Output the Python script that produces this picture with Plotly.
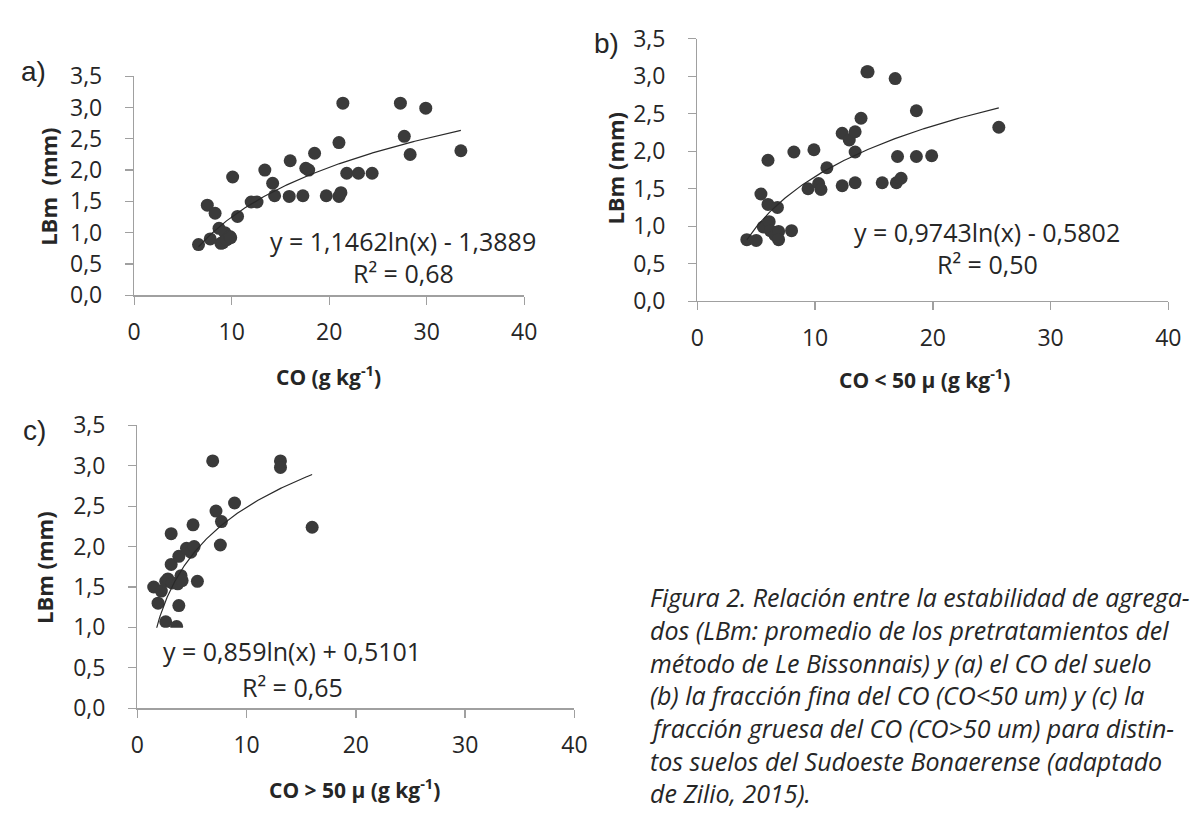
import numpy as np
import plotly.graph_objects as go

# ---------------- data ----------------
a_x = [6.6, 7.5, 7.8, 8.3, 8.7, 8.9, 9.1, 9.3, 9.5, 9.8, 9.9, 10.1, 10.6, 12.0, 12.6, 13.4, 14.2, 14.4,
       15.9, 16.0, 17.3, 17.6, 17.9, 18.5, 19.7, 21.0, 21.0, 21.2, 21.4, 21.8, 23.0, 24.4, 27.3, 27.7,
       28.3, 29.9, 33.5]
a_y = [0.81, 1.44, 0.90, 1.31, 1.07, 0.83, 0.84, 1.00, 0.89, 0.94, 0.92, 1.89, 1.26, 1.49, 1.49, 2.00,
       1.79, 1.59, 1.58, 2.15, 1.59, 2.03, 2.00, 2.27, 1.59, 2.44, 1.58, 1.64, 3.07, 1.95, 1.95, 1.95,
       3.07, 2.54, 2.25, 2.99, 2.31]

b_x = [4.2, 5.0, 5.4, 5.6, 6.0, 6.0, 6.1, 6.2, 6.6, 6.8, 6.9, 6.9, 8.0, 8.2, 9.4, 9.9, 10.3, 10.5, 11.0,
       12.3, 12.3, 12.9, 13.4, 13.4, 13.4, 13.9, 14.4, 14.5, 15.7, 16.8, 16.9, 17.0, 17.3, 18.6, 18.6,
       19.9, 25.6]
b_y = [0.82, 0.81, 1.43, 0.99, 1.88, 1.29, 1.06, 0.94, 0.88, 1.25, 0.93, 0.82, 0.94, 1.99, 1.50, 2.02,
       1.57, 1.49, 1.78, 1.54, 2.24, 2.15, 1.58, 2.26, 1.99, 2.44, 3.06, 3.06, 1.58, 2.97, 1.58, 1.93,
       1.64, 1.93, 2.54, 1.94, 2.32]

c_x = [1.5, 1.9, 2.2, 2.6, 2.6, 2.8, 3.1, 3.1, 3.2, 3.6, 3.7, 3.8, 3.8, 4.0, 4.1, 4.5, 4.9, 5.1, 5.2,
       5.5, 6.9, 7.2, 7.6, 7.7, 8.9, 13.1, 13.1, 16.0]
c_y = [1.50, 1.30, 1.45, 1.07, 1.57, 1.60, 2.16, 1.78, 1.55, 1.01, 1.54, 1.27, 1.88, 1.64, 1.58, 1.98,
       1.93, 2.27, 2.00, 1.57, 3.06, 2.44, 2.02, 2.31, 2.54, 3.06, 2.98, 2.24]

# trendline coefficients (y = a ln(x) + b), as printed on the chart
a_fit = (1.1462, -1.3889)
b_fit = (0.9743, -0.5802)
c_fit = (0.859, 0.5101)

a_eq = ["y = 1,1462ln(x) - 1,3889", "R² = 0,68"]
b_eq = ["y = 0,9743ln(x) - 0,5802", "R² = 0,50"]
c_eq = ["y = 0,859ln(x) + 0,5101", "R² = 0,65"]

y_tickvals = [0, 0.5, 1.0, 1.5, 2.0, 2.5, 3.0, 3.5]
y_ticktext = ["0,0", "0,5", "1,0", "1,5", "2,0", "2,5", "3,0", "3,5"]
x_tickvals = [0, 10, 20, 30, 40]
x_ticktext = ["0", "10", "20", "30", "40"]

x_titles = ["CO (g kg<sup>-1</sup>)", "CO &lt; 50 µ (g kg<sup>-1</sup>)", "CO &gt; 50 µ (g kg<sup>-1</sup>)"]
y_titles = ["LBm  (mm)", "LBm (mm)", "LBm (mm)"]
panel_labels = ["a)", "b)", "c)"]

caption = [
    "Figura 2. Relación entre la estabilidad de agrega-",
    "dos (LBm: promedio de los pretratamientos del",
    "método de Le Bissonnais) y (a) el CO del suelo",
    "(b) la fracción fina del CO (CO&lt;50 um) y (c) la",
    "fracción gruesa del CO (CO&gt;50 um) para distin-",
    "tos suelos del Sudoeste Bonaerense (adaptado",
    "de Zilio, 2015).",
]

# ---------------- layout helpers ----------------
W, H = 1204, 820
def px(v):
    return v / W
def py(v):
    return 1 - v / H

FONT = "Open Sans"
DOT = "#3a3a3a"
AX = "#a0a0a0"
TXT = "#262626"

# panels: (x0px, x1px, ytop_px, ybottom_px)
panels = [
    (129.3, 526.0, 61.7, 289.5),
    (702.0, 1181.0, 22.7, 295.7),
    (132.5, 577.0, 425.0, 719.3),
]

fig = go.Figure()
datasets = [(a_x, a_y, a_fit), (b_x, b_y, b_fit), (c_x, c_y, c_fit)]
for i, (xs, ys, fit) in enumerate(datasets):
    sx = "" if i == 0 else str(i + 1)
    xx = np.linspace(min(xs), max(xs), 200)
    fig.add_trace(go.Scatter(x=xs, y=ys, mode="markers", xaxis="x" + sx, yaxis="y" + sx,
                             marker=dict(size=13, color=DOT, line=dict(width=0)),
                             showlegend=False, hoverinfo="skip"))
    fig.add_trace(go.Scatter(x=xx, y=fit[0] * np.log(xx) + fit[1], mode="lines",
                             xaxis="x" + sx, yaxis="y" + sx,
                             line=dict(color="#2a2a2a", width=1.2),
                             showlegend=False, hoverinfo="skip"))

layout = dict(width=W, height=H, autosize=False, margin=dict(l=0, r=0, t=0, b=0),
              paper_bgcolor="white", plot_bgcolor="white", showlegend=False)

axis_common = dict(showgrid=False, zeroline=False, showline=True, linecolor=AX, linewidth=1.3,
                   ticks="outside", ticklen=8, tickcolor=AX, tickwidth=1.3,
                   tickfont=dict(family=FONT, size=23, color=TXT), fixedrange=True)

for i, (x0, x1, yt, yb) in enumerate(panels):
    sx = "" if i == 0 else str(i + 1)
    layout["xaxis" + sx] = dict(axis_common, domain=[px(x0), px(x1)], range=[0, 40],
                                anchor="y" + sx, tickvals=x_tickvals, ticktext=x_ticktext,
                                ticklabelstandoff=8)
    layout["yaxis" + sx] = dict(axis_common, domain=[py(yb), py(yt)], range=[0, 3.5],
                                anchor="x" + sx, tickvals=y_tickvals, ticktext=y_ticktext,
                                ticklabelstandoff=18)

fig.update_layout(**layout)

ann = []
def text(x, y, s, size, bold=False, italic=False, xanchor="center", angle=0, family=FONT):
    t = s
    if bold:
        t = "<b>" + t + "</b>"
    if italic:
        t = "<i>" + t + "</i>"
    ann.append(dict(x=px(x), y=py(y), xref="paper", yref="paper", text=t, showarrow=False,
                    xanchor=xanchor, yanchor="middle", textangle=angle,
                    font=dict(family=family, size=size, color=TXT)))

# axis titles
x_title_pos = [(326.7, 373), (933, 376), (353, 803)]
y_title_pos = [(41.7, 176.7), (618, 157), (37, 573)]
for i in range(3):
    text(*x_title_pos[i], x_titles[i], 21, bold=True)
    text(*y_title_pos[i], y_titles[i], 22, bold=True, angle=-90)

# panel labels
label_pos = [(27, 57), (610, 28), (28, 430)]
for i in range(3):
    text(*label_pos[i], panel_labels[i], 28, family="Liberation Sans")

# white label box in panel c (covers points/trendline below it, as in the original)
shapes = [dict(type="rect", xref="paper", yref="paper", x0=px(143), x1=px(436), y0=py(716), y1=py(635.5),
               fillcolor="white", line=dict(width=0), layer="above")]

# equations
eq_pos = [((402.6, 233.3), (403.6, 266.7)), ((997, 223.3), (997, 256.7)), ((289.5, 660), (290, 696.7))]
for i, eqs in enumerate([a_eq, b_eq, c_eq]):
    for j in range(2):
        text(*eq_pos[i][j], eqs[j], 25)

# caption
cap_y = [604, 638, 672, 706, 740, 774, 808]
for k, line in enumerate(caption):
    text(652, cap_y[k], line, 25, italic=True, xanchor="left")

fig.update_layout(annotations=ann, shapes=shapes)
fig.write_html("out.html", config={"displayModeBar": False, "staticPlot": True},
               post_script="document.body.style.margin='0px';")
